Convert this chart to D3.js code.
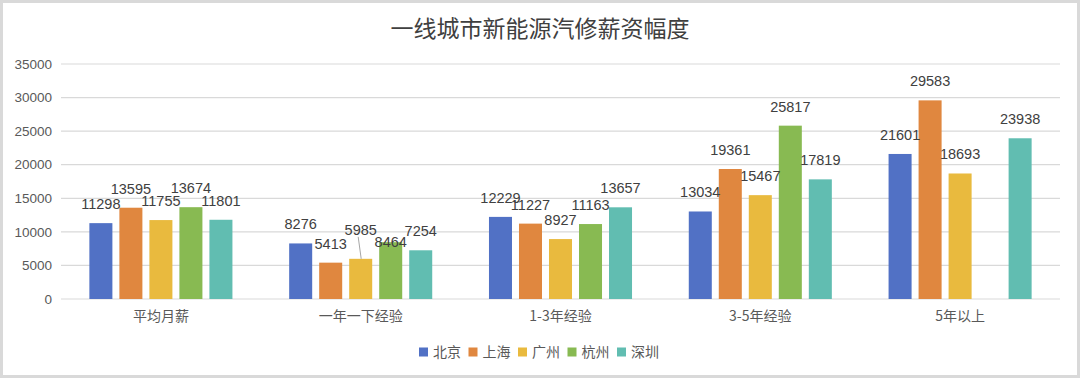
<!DOCTYPE html>
<html><head><meta charset="utf-8">
<script src="https://cdn.jsdelivr.net/npm/d3@7"></script>
<style>html,body{margin:0;padding:0;background:#fff;}svg{display:block;}</style>
</head><body>
<svg id="chart" width="1080" height="378"></svg>
<script>
const title = "一线城市新能源汽修薪资幅度";
const categories = ["平均月薪", "一年一下经验", "1-3年经验", "3-5年经验", "5年以上"];
const seriesNames = ["北京", "上海", "广州", "杭州", "深圳"];
const beijing  = [11298, 8276, 12229, 13034, 21601];
const shanghai = [13595, 5413, 11227, 19361, 29583];
const guangzhou = [11755, 5985, 8927, 15467, 18693];
const hangzhou = [13674, 8464, 11163, 25817, null];
const shenzhen = [11801, 7254, 13657, 17819, 23938];
const yTicks = [0, 5000, 10000, 15000, 20000, 25000, 30000, 35000];

const seriesValues = [beijing, shanghai, guangzhou, hangzhou, shenzhen];
const colors = ["#5171C5", "#E0873F", "#E9BA3E", "#88BA52", "#61BDB1"];
// label nudges (px) for overlapping data labels
const labelNudge = { "广州|一年一下经验": -10, "杭州|一年一下经验": 18.5 };

const svg = d3.select("#chart");
const W = 1080, H = 378;

svg.append("rect").attr("x", 1.5).attr("y", 1.5).attr("width", W - 3).attr("height", H - 3)
  .attr("fill", "#fff").attr("stroke", "#d9d9d9").attr("stroke-width", 3);

svg.append("text").attr("x", 540).attr("y", 37).attr("text-anchor", "middle")
  .attr("font-family", "'Noto Sans CJK SC', sans-serif").attr("font-size", 23)
  .attr("fill", "#404040").text(title);

const y = d3.scaleLinear().domain([0, 35000]).range([299, 64]);
const x0 = d3.scaleBand().domain(categories).range([61, 1060]).paddingInner(0.284).paddingOuter(0.142);
const x1 = d3.scaleBand().domain(seriesNames).range([0, x0.bandwidth()]).paddingInner(0.233);

// gridlines
svg.append("g").selectAll("line").data(yTicks).join("line")
  .attr("x1", 61).attr("x2", 1060)
  .attr("y1", d => y(d)).attr("y2", d => y(d))
  .attr("stroke", "#d9d9d9").attr("stroke-width", 1.2);

// y tick labels
svg.append("g").selectAll("text").data(yTicks).join("text")
  .attr("x", 52).attr("y", d => y(d)).attr("dy", "0.35em").attr("text-anchor", "end")
  .attr("font-family", "'Liberation Sans', Arial, sans-serif").attr("font-size", 13.5)
  .attr("fill", "#595959").text(d => d);

// x labels
svg.append("g").selectAll("text").data(categories).join("text")
  .attr("x", d => x0(d) + x0.bandwidth() / 2).attr("y", 321).attr("text-anchor", "middle")
  .attr("font-family", "'Noto Sans CJK SC', sans-serif").attr("font-size", 14)
  .attr("fill", "#595959").text(d => d);

const flat = [];
categories.forEach((c, ci) => seriesNames.forEach((s, si) => {
  const v = seriesValues[si][ci];
  if (v != null) flat.push({ c, s, si, v });
}));

svg.append("g").selectAll("rect").data(flat).join("rect")
  .attr("x", d => x0(d.c) + x1(d.s)).attr("width", x1.bandwidth())
  .attr("y", d => y(d.v)).attr("height", d => y(0) - y(d.v))
  .attr("fill", d => colors[d.si]);

// leader lines for nudged-up labels
svg.append("g").selectAll("line").data(flat.filter(d => (labelNudge[d.s + "|" + d.c] || 0) < 0)).join("line")
  .attr("x1", d => x0(d.c) + x1(d.s) + x1.bandwidth() / 2 - 2.5)
  .attr("x2", d => x0(d.c) + x1(d.s) + x1.bandwidth() / 2 + 0.5)
  .attr("y1", d => y(d.v) - 15 + (labelNudge[d.s + "|" + d.c] || 0) + 3)
  .attr("y2", d => y(d.v))
  .attr("stroke", "#a6a6a6").attr("stroke-width", 1);

svg.append("g").selectAll("text").data(flat).join("text")
  .attr("x", d => x0(d.c) + x1(d.s) + x1.bandwidth() / 2)
  .attr("y", d => y(d.v) - 14 + (labelNudge[d.s + "|" + d.c] || 0))
  .attr("text-anchor", "middle")
  .attr("font-family", "'Liberation Sans', Arial, sans-serif").attr("font-size", 14.5)
  .attr("fill", "#404040").text(d => d.v);

// legend
const lg = svg.append("g");
let lx = 419;
seriesNames.forEach((s, i) => {
  lg.append("rect").attr("x", lx).attr("y", 347.5).attr("width", 9).attr("height", 9).attr("fill", colors[i]);
  const t = lg.append("text").attr("x", lx + 14).attr("y", 357)
    .attr("font-family", "'Noto Sans CJK SC', sans-serif").attr("font-size", 14)
    .attr("fill", "#595959").text(s);
  lx += 49.5;
});
</script>
</body></html>
